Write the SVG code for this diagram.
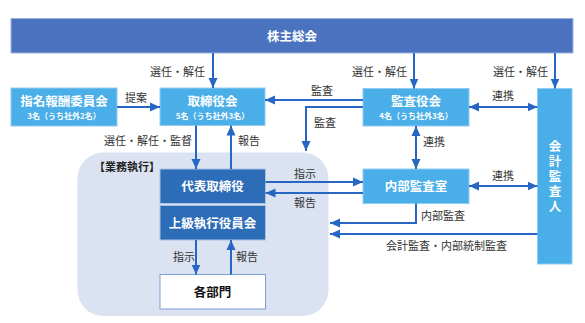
<svg xmlns="http://www.w3.org/2000/svg" width="585" height="323" viewBox="0 0 585 323">
<style>
.lt{fill:#4aaee8;stroke:#8fcdf2;stroke-width:1}
.dk{fill:#2d6db8;stroke:#a9c1e4;stroke-width:1}
.nt{font-family:"Noto Sans CJK JP","Noto Sans",sans-serif;font-weight:bold;fill:#fff;text-anchor:middle}
.main{font-size:12.5px}
.sub{font-size:8px}
.el{font-family:"Noto Sans CJK JP","Noto Sans",sans-serif;font-size:11px;fill:#333}
.cn{fill:none;stroke:#2866c4;stroke-width:2}
</style>
<defs>
<marker id="ah" markerUnits="userSpaceOnUse" markerWidth="10" markerHeight="10" viewBox="0 0 10 10" refX="10" refY="5" orient="auto-start-reverse">
<path d="M0,0.5 L10,5 L0,9.5 z" fill="#2866c4"/>
</marker>
</defs>
<rect width="585" height="323" fill="#fff"/>
<g id="exec-group">
<rect x="77.5" y="152.5" width="251" height="163.5" rx="26" fill="#dbe2f1"/>
<text x="94" y="171" class="el" style="font-weight:bold;fill:#222">【業務執行】</text>
</g>
<g id="shareholders">
<rect x="11" y="18.5" width="562" height="34.5" fill="#4a72bf" stroke="#9fb2dd" stroke-width="1"/>
<text x="292" y="40.5" class="nt main">株主総会</text>
</g>
<g id="nomination">
<rect x="11" y="88" width="106" height="38" class="lt"/>
<text x="64" y="105.5" class="nt main">指名報酬委員会</text>
<text x="64" y="119" class="nt sub">3名（うち社外2名）</text>
</g>
<g id="board">
<rect x="160" y="88" width="105" height="37.5" class="lt"/>
<text x="212.5" y="105.5" class="nt main">取締役会</text>
<text x="212.5" y="119" class="nt sub">5名（うち社外3名）</text>
</g>
<g id="auditboard">
<rect x="363" y="88.5" width="106" height="37.5" class="lt"/>
<text x="416" y="105.5" class="nt main">監査役会</text>
<text x="416" y="119" class="nt sub">4名（うち社外3名）</text>
</g>
<g id="accountant">
<rect x="537.5" y="88.5" width="34.5" height="175.5" class="lt"/>
<text x="555" y="140" class="nt main" style="writing-mode:vertical-rl;text-anchor:start;letter-spacing:2.5px">会計監査人</text>
</g>
<g id="internalaudit">
<rect x="363" y="169" width="106" height="34.5" class="lt"/>
<text x="416" y="190.5" class="nt main">内部監査室</text>
</g>
<g id="ceo">
<rect x="160" y="169" width="105.5" height="34.5" class="dk"/>
<text x="212.5" y="190.5" class="nt main">代表取締役</text>
</g>
<g id="executives">
<rect x="160" y="205.5" width="105.5" height="34.5" class="dk"/>
<text x="212.5" y="227.5" class="nt main">上級執行役員会</text>
</g>
<g id="departments">
<rect x="160" y="274.5" width="105.5" height="34.5" fill="#fff" stroke="#7f9fd6" stroke-width="1"/>
<text x="212.5" y="296.5" class="nt main" style="fill:#111">各部門</text>
</g>
<g id="connectors">
<path class="cn" d="M213,53 V88" marker-end="url(#ah)"/>
<path class="cn" d="M414,53 V88.5" marker-end="url(#ah)"/>
<path class="cn" d="M555,53 V88.5" marker-end="url(#ah)"/>
<path class="cn" d="M117,107 H160" marker-end="url(#ah)"/>
<path class="cn" d="M363,100 H265" marker-end="url(#ah)"/>
<path class="cn" d="M363,107 H306 V151" marker-end="url(#ah)"/>
<path class="cn" d="M469,107 H537.5" marker-start="url(#ah)" marker-end="url(#ah)"/>
<path class="cn" d="M416,126 V169" marker-start="url(#ah)" marker-end="url(#ah)"/>
<path class="cn" d="M196,125.5 V169" marker-end="url(#ah)"/>
<path class="cn" d="M231,169 V125.5" marker-end="url(#ah)"/>
<path class="cn" d="M265.5,182 H363" marker-end="url(#ah)"/>
<path class="cn" d="M363,193 H265.5" marker-end="url(#ah)"/>
<path class="cn" d="M469,186 H537.5" marker-start="url(#ah)" marker-end="url(#ah)"/>
<path class="cn" d="M416,203.5 V223 H330" marker-end="url(#ah)"/>
<path class="cn" d="M537.5,234 H330" marker-end="url(#ah)"/>
<path class="cn" d="M196,240 V274.5" marker-end="url(#ah)"/>
<path class="cn" d="M231,274.5 V240" marker-end="url(#ah)"/>
</g>
<g id="labels">
<text x="205" y="76" class="el" text-anchor="end">選任・解任</text>
<text x="407" y="76" class="el" text-anchor="end">選任・解任</text>
<text x="548" y="76" class="el" text-anchor="end">選任・解任</text>
<text x="136" y="102" class="el" text-anchor="middle">提案</text>
<text x="192" y="145" class="el" text-anchor="end">選任・解任・監督</text>
<text x="238" y="145" class="el">報告</text>
<text x="311" y="95" class="el">監査</text>
<text x="314" y="127" class="el">監査</text>
<text x="492" y="100" class="el">連携</text>
<text x="423" y="146" class="el">連携</text>
<text x="294" y="178" class="el">指示</text>
<text x="294" y="207" class="el">報告</text>
<text x="492" y="180" class="el">連携</text>
<text x="421" y="220" class="el">内部監査</text>
<text x="386" y="250" class="el">会計監査・内部統制監査</text>
<text x="173" y="261" class="el">指示</text>
<text x="236" y="261" class="el">報告</text>
</g>
</svg>
